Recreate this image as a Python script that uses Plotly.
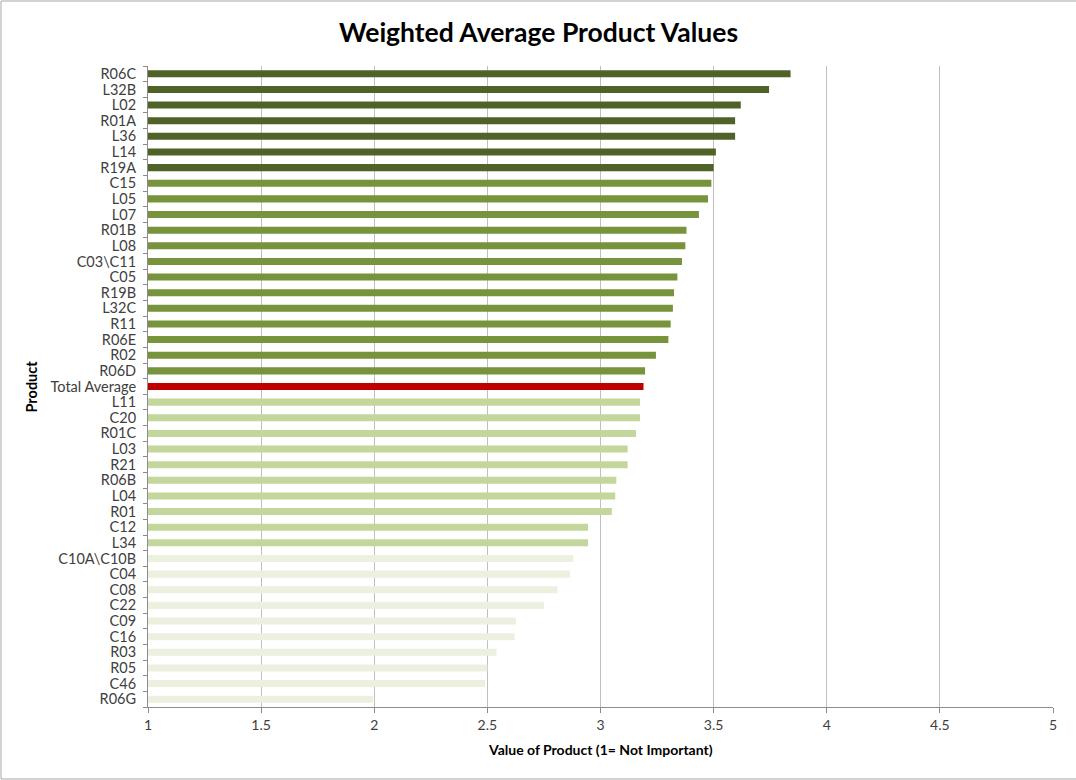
import plotly.graph_objects as go

products = ["R06C", "L32B", "L02", "R01A", "L36", "L14", "R19A", "C15", "L05", "L07",
            "R01B", "L08", "C03\\C11", "C05", "R19B", "L32C", "R11", "R06E", "R02", "R06D",
            "Total Average", "L11", "C20", "R01C", "L03", "R21", "R06B", "L04", "R01", "C12",
            "L34", "C10A\\C10B", "C04", "C08", "C22", "C09", "C16", "R03", "R05", "C46", "R06G"]
values = [3.84, 3.745, 3.62, 3.595, 3.595, 3.51, 3.50, 3.49, 3.475, 3.435,
          3.38, 3.375, 3.36, 3.34, 3.325, 3.32, 3.31, 3.30, 3.245, 3.197,
          3.19, 3.175, 3.175, 3.157, 3.12, 3.12, 3.07, 3.065, 3.05, 2.945,
          2.945, 2.88, 2.865, 2.81, 2.75, 2.626, 2.62, 2.54, 2.50, 2.49, 1.995]
tiers = ["top"] * 7 + ["high"] * 13 + ["avg"] + ["mid"] * 10 + ["low"] * 10
x_ticks = [1, 1.5, 2, 2.5, 3, 3.5, 4, 4.5, 5]

tier_colors = {"top": "#4f6228", "high": "#77933c", "avg": "#c00000",
               "mid": "#c3d69b", "low": "#ebf1de"}
colors = [tier_colors[t] for t in tiers]

fig = go.Figure(go.Bar(
    x=values, y=products, orientation="h",
    marker=dict(color=colors, line=dict(width=0)),
    hoverinfo="x+y",
))

FONT = "Lato, Calibri, Carlito, sans-serif"
fig.update_layout(
    width=1076, height=780,
    margin=dict(l=148, r=23, t=66, b=73),
    paper_bgcolor="white", plot_bgcolor="white",
    bargap=0.55,
    showlegend=False,
    font=dict(family=FONT, size=14, color="#404040"),
    xaxis=dict(range=[1, 5], tickvals=x_ticks, ticktext=[str(v) for v in x_ticks],
               showgrid=True, gridcolor="#bfbfbf", gridwidth=1,
               showline=True, linecolor="#8c8c8c", linewidth=1,
               ticks="outside", ticklen=5, tickcolor="#8c8c8c",
               tickfont=dict(size=14, color="#404040", family=FONT),
               zeroline=False, fixedrange=True),
    yaxis=dict(categoryorder="array", categoryarray=products, autorange="reversed",
               tickmode="array", tickvals=products, ticktext=products,
               showline=True, linecolor="#8c8c8c", linewidth=1,
               ticks="outside", ticklen=4, tickcolor="#8c8c8c", tickson="boundaries",
               ticklabelstandoff=8,
               tickfont=dict(size=14.5, color="#404040", family=FONT),
               showgrid=False, fixedrange=True),
    annotations=[
        dict(text="<b>Weighted Average Product Values</b>", xref="paper", yref="paper",
             x=(538 - 148) / 905, y=1, yshift=34, xanchor="center", yanchor="middle",
             showarrow=False, font=dict(size=26.5, color="#000000", family=FONT)),
        dict(text="<b>Value of Product (1= Not Important)</b>", xref="paper", yref="paper",
             x=(600 - 148) / 905, y=0, yshift=-42, xanchor="center", yanchor="middle",
             showarrow=False, font=dict(size=14, color="#000000", family=FONT)),
        dict(text="<b>Product</b>", xref="paper", yref="paper", textangle=-90,
             x=0, xshift=-117, y=0.5, xanchor="center", yanchor="middle",
             showarrow=False, font=dict(size=14.5, color="#000000", family=FONT)),
    ],
    shapes=[dict(type="rect", xref="paper", yref="paper",
                 x0=-147 / 905, x1=1 + 40 / 905, y0=-72 / 641, y1=1 + 65 / 641,
                 line=dict(color="#a6a6a6", width=1), layer="below")],
)

fig.write_html("out.html")
